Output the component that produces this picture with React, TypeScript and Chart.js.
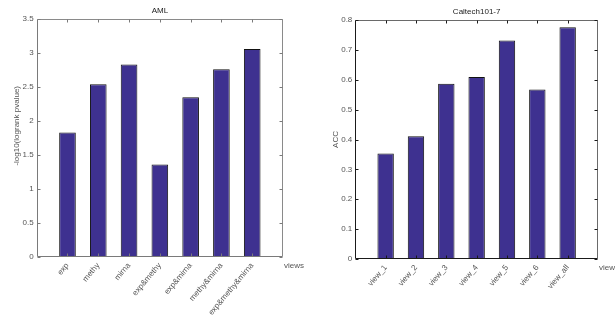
import React, { useEffect, useRef } from 'react';
import { Chart, registerables } from 'chart.js';

Chart.register(...registerables);

// ---- data ----
const amlCategories = ['exp', 'methy', 'mirna', 'exp&methy', 'exp&mirna', 'methy&mirna', 'exp&methy&mirna'];
const amlValues = [1.83, 2.54, 2.83, 1.36, 2.35, 2.76, 3.06];
const amlYTicks = [0, 0.5, 1, 1.5, 2, 2.5, 3, 3.5];

const caltechCategories = ['view_1', 'view_2', 'view_3', 'view_4', 'view_5', 'view_6', 'view_all'];
const caltechValues = [0.353, 0.411, 0.587, 0.609, 0.731, 0.567, 0.776];
const caltechYTicks = [0, 0.1, 0.2, 0.3, 0.4, 0.5, 0.6, 0.7, 0.8];

const FONT = "'Liberation Sans', Arial, sans-serif";
const BAR_COLOR = '#3e3190';
const TEXT_GRAY = '#555555';

type Params = {
  categories: string[];
  values: number[];
  yTicks: number[];
  title: string;
  yLabel: string;
  xLabel: string;
  padLeft: number;
  padTop: number;
  padRight: number;
  yWidth: number;
  xHeight: number;
  leftBottomColor: string;
  topRightColor: string;
};

function makeConfig(p: Params): any {
  const labels = ['', ...p.categories, ''];
  const data = [null, ...p.values, null];
  const yMax = p.yTicks[p.yTicks.length - 1];

  const frame = {
    id: 'matlabFrame',
    afterDatasetsDraw(chart: any) {
      const { ctx, chartArea } = chart;
      const { left, right, top, bottom } = chartArea;
      const xs = chart.scales.x;
      const ys = chart.scales.y;
      const L = Math.round(left) + 0.5;
      const R = Math.round(right) - 0.5;
      const T = Math.round(top) + 0.5;
      const B = Math.round(bottom) - 0.5;
      ctx.save();
      ctx.lineWidth = 1;
      ctx.strokeStyle = p.topRightColor;
      ctx.beginPath();
      ctx.moveTo(L, T);
      ctx.lineTo(R, T);
      ctx.lineTo(R, B);
      ctx.stroke();
      ctx.strokeStyle = p.leftBottomColor;
      ctx.beginPath();
      ctx.moveTo(L, T);
      ctx.lineTo(L, B);
      ctx.lineTo(R, B);
      ctx.stroke();
      const tl = 3;
      ctx.strokeStyle = p.leftBottomColor;
      ctx.beginPath();
      p.yTicks.forEach((v) => {
        const y = Math.round(ys.getPixelForValue(v)) + 0.5;
        ctx.moveTo(L, y);
        ctx.lineTo(L + tl, y);
        ctx.moveTo(R, y);
        ctx.lineTo(R - tl, y);
      });
      p.categories.forEach((_c, i) => {
        const x = Math.round(xs.getPixelForValue(i + 1)) + 0.5;
        ctx.moveTo(x, B);
        ctx.lineTo(x, B - tl);
        ctx.moveTo(x, T);
        ctx.lineTo(x, T + tl);
      });
      ctx.stroke();
      ctx.fillStyle = '#222222';
      ctx.font = `8px ${FONT}`;
      ctx.textAlign = 'center';
      ctx.textBaseline = 'middle';
      ctx.fillText(p.title, (left + right) / 2, top - 8);
      ctx.fillStyle = TEXT_GRAY;
      ctx.textAlign = 'left';
      ctx.fillText(p.xLabel, right + 1, bottom + 9);
      ctx.restore();
    },
  };

  return {
    type: 'bar',
    data: {
      labels,
      datasets: [
        {
          data,
          backgroundColor: BAR_COLOR,
          borderColor: '#111111',
          borderWidth: 1,
          barPercentage: 0.54,
          categoryPercentage: 1,
        },
      ],
    },
    options: {
      animation: false,
      responsive: false,
      devicePixelRatio: 1,
      layout: { padding: { left: p.padLeft, top: p.padTop, right: p.padRight, bottom: 0 } },
      plugins: {
        legend: { display: false },
        tooltip: { enabled: false },
        title: { display: false },
      },
      scales: {
        x: {
          offset: false,
          grid: { display: false, drawTicks: false, offset: false },
          border: { display: false },
          ticks: {
            autoSkip: false,
            minRotation: 50,
            maxRotation: 50,
            padding: 4,
            color: TEXT_GRAY,
            font: { family: FONT, size: 8 },
          },
          afterFit: (s: any) => {
            s.height = p.xHeight;
          },
        },
        y: {
          min: 0,
          max: yMax,
          grid: { display: false, drawTicks: false },
          border: { display: false },
          afterBuildTicks: (s: any) => {
            s.ticks = p.yTicks.map((v) => ({ value: v }));
          },
          ticks: {
            padding: 3,
            color: TEXT_GRAY,
            font: { family: FONT, size: 8 },
            callback: (v: any) => String(v),
          },
          title: {
            display: true,
            text: p.yLabel,
            padding: 0,
            color: TEXT_GRAY,
            font: { family: FONT, size: 8 },
          },
          afterFit: (s: any) => {
            s.width = p.yWidth;
          },
        },
      },
    },
    plugins: [frame],
  };
}

function BarPanel({ params, left }: { params: Params; left: number }) {
  const ref = useRef<HTMLCanvasElement | null>(null);
  useEffect(() => {
    if (!ref.current) return;
    const chart = new Chart(ref.current, makeConfig(params));
    return () => chart.destroy();
  }, [params]);
  return (
    <canvas
      ref={ref}
      width={308}
      height={326}
      style={{ position: 'absolute', left, top: 0, width: 308, height: 326 }}
    />
  );
}

const amlParams: Params = {
  categories: amlCategories,
  values: amlValues,
  yTicks: amlYTicks,
  title: 'AML',
  yLabel: '           -log10(logrank pvalue)',
  xLabel: 'views',
  padLeft: 12,
  padTop: 19,
  padRight: 25,
  yWidth: 24.7,
  xHeight: 69,
  leftBottomColor: '#7a7a7a',
  topRightColor: '#8a8a8a',
};

const caltechParams: Params = {
  categories: caltechCategories,
  values: caltechValues,
  yTicks: caltechYTicks,
  title: 'Caltech101-7',
  yLabel: 'ACC',
  xLabel: 'view',
  padLeft: 23,
  padTop: 20,
  padRight: 18,
  yWidth: 24.3,
  xHeight: 67,
  leftBottomColor: '#1a1a1a',
  topRightColor: '#6a6a6a',
};

export default function App() {
  return (
    <div
      style={{
        position: 'fixed',
        left: 0,
        top: 0,
        width: 616,
        height: 326,
        background: '#ffffff',
        overflow: 'hidden',
      }}
    >
      <BarPanel params={amlParams} left={0} />
      <BarPanel params={caltechParams} left={308} />
    </div>
  );
}
